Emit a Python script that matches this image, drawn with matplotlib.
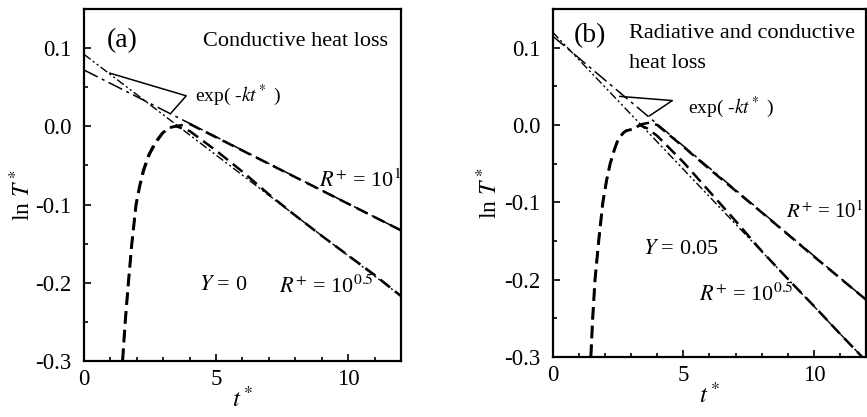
import matplotlib.pyplot as plt
from matplotlib.ticker import MultipleLocator

plt.rcParams['font.family'] = ['Liberation Serif', 'DejaVu Serif']
plt.rcParams['mathtext.fontset'] = 'stix'

# ---- panel (a): conductive heat loss, Y = 0 ----
a_t_r05 = [1.45, 1.55, 1.67, 1.8, 1.96, 2.1, 2.24, 2.45, 2.68, 2.95, 3.2, 3.5, 4.0, 5.0, 6.0, 7.0, 8.0, 9.0, 10.0, 11.0, 12.0]
a_T_r05 = [-0.3, -0.25, -0.2, -0.15, -0.1, -0.076, -0.056, -0.036, -0.021, -0.009, -0.002, 0.0, -0.006, -0.031, -0.058, -0.087, -0.114, -0.14, -0.165, -0.19, -0.217]
a_t_r1 = [1.47, 1.57, 1.69, 1.82, 1.98, 2.12, 2.27, 2.48, 2.72, 3.0, 3.3, 3.6, 4.0, 6.0, 8.0, 10.0, 12.0]
a_T_r1 = [-0.3, -0.25, -0.2, -0.15, -0.1, -0.076, -0.056, -0.036, -0.021, -0.008, -0.001, 0.001, 0.003, -0.031, -0.065, -0.099, -0.133]
a_fit_t = [0, 12]
a_fit_r1 = [0.072, -0.133]
a_fit_r05 = [0.092, -0.217]

# ---- panel (b): radiative and conductive heat loss, Y = 0.05 ----
b_t_r05 = [1.45, 1.52, 1.61, 1.75, 1.91, 2.05, 2.19, 2.35, 2.5, 2.7, 2.82, 3.05, 3.33, 3.6, 4.0, 5.0, 6.0, 7.0, 8.0, 9.0, 10.0, 11.0, 11.85]
b_T_r05 = [-0.3, -0.25, -0.2, -0.15, -0.1, -0.072, -0.05, -0.032, -0.018, -0.01, -0.007, -0.006, 0.0, -0.004, -0.014, -0.048, -0.086, -0.124, -0.163, -0.199, -0.234, -0.27, -0.3]
b_t_r1 = [1.47, 1.54, 1.63, 1.77, 1.93, 2.07, 2.21, 2.37, 2.52, 2.72, 2.85, 3.1, 3.4, 3.7, 4.0, 5.0, 6.0, 8.0, 10.0, 12.0]
b_T_r1 = [-0.3, -0.25, -0.2, -0.15, -0.1, -0.072, -0.05, -0.032, -0.018, -0.01, -0.007, -0.005, 0.001, 0.003, 0.0, -0.028, -0.057, -0.113, -0.17, -0.226]
b_fit_t_r1 = [0, 12]
b_fit_r1 = [0.115, -0.226]
b_fit_t_r05 = [0, 11.85]
b_fit_r05 = [0.12, -0.3]

xticks = [0, 5, 10]
yticks = [-0.3, -0.2, -0.1, 0.0, 0.1]
yticklabels = ['-0.3', '-0.2', '-0.1', '0.0', '0.1']

dash_curve = (0, (5, 2.5))
dash_r1 = (0, (10, 3, 2, 3))
dash_r05 = (0, (6, 2, 1.5, 2, 1.5, 2))

fig = plt.figure(figsize=(8.67, 4.17), dpi=100)
ax1 = fig.add_axes([0.0969, 0.1343, 0.3656, 0.8441])
ax2 = fig.add_axes([0.6375, 0.1439, 0.3615, 0.8345])


def style(ax, ylab_x):
    ax.set_xlim(0, 12)
    ax.set_ylim(-0.3, 0.15)
    ax.set_xticks(xticks)
    ax.set_yticks(yticks)
    ax.set_yticklabels(yticklabels)
    ax.xaxis.set_minor_locator(MultipleLocator(1))
    ax.yaxis.set_minor_locator(MultipleLocator(0.05))
    ax.tick_params(which='both', direction='in', top=False, right=False, labelsize=16.5, width=1.2)
    ax.tick_params(axis='y', which='major', length=5, pad=9)
    ax.tick_params(axis='x', which='major', length=5, pad=6)
    ax.tick_params(which='minor', length=3)
    for s in ax.spines.values():
        s.set_linewidth(1.6)
    ax.set_xlabel(r'$t^*$', fontsize=18)
    ax.xaxis.set_label_coords(0.5, -0.075)
    ax.set_ylabel(r'ln $T^*$', fontsize=17)
    ax.yaxis.set_label_coords(ylab_x, 0.47)


def lbl(ax, x, y, s, **kw):
    ax.text(x, y, s, fontsize=16, va='center', **kw)


# panel (a)
ax1.plot(a_fit_t, a_fit_r1, color='k', lw=1.1, linestyle=dash_r1)
ax1.plot(a_fit_t, a_fit_r05, color='k', lw=1.0, linestyle=dash_r05)
ax1.plot(a_t_r1, a_T_r1, color='k', lw=1.8, linestyle=dash_curve)
ax1.plot(a_t_r05, a_T_r05, color='k', lw=1.8, linestyle=dash_curve)
ax1.plot([0.98, 3.87, 3.31], [0.068, 0.039, 0.0176], color='k', lw=1.1)
ax1.text(4.19, 0.039, r'exp( -$kt^*$ )', fontsize=14, va='center')
ax1.text(0.85, 0.109, '(a)', fontsize=20, va='center')
lbl(ax1, 11.5, 0.109, 'Conductive heat loss', ha='right')
lbl(ax1, 8.9, -0.07, r'$R^{+}$ = 10$^{1}$')
lbl(ax1, 4.35, -0.203, r'$Y$ = 0')
lbl(ax1, 7.4, -0.205, r'$R^{+}$ = 10$^{0.5}$')
style(ax1, -0.155)

# panel (b)
ax2.plot(b_fit_t_r1, b_fit_r1, color='k', lw=1.1, linestyle=dash_r1)
ax2.plot(b_fit_t_r05, b_fit_r05, color='k', lw=1.0, linestyle=dash_r05)
ax2.plot(b_t_r1, b_T_r1, color='k', lw=1.8, linestyle=dash_curve)
ax2.plot(b_t_r05, b_T_r05, color='k', lw=1.8, linestyle=dash_curve)
ax2.plot([2.57, 4.58, 3.71], [0.037, 0.0316, 0.012], color='k', lw=1.1)
ax2.text(5.18, 0.023, r'exp( -$kt^*$ )', fontsize=14, va='center')
ax2.text(0.81, 0.116, '(b)', fontsize=20, va='center')
lbl(ax2, 2.92, 0.118, 'Radiative and conductive')
lbl(ax2, 2.92, 0.079, 'heat loss')
ax2.text(8.95, -0.113, r'$R^{+}$ = 10$^{1}$', fontsize=15, va='center')
lbl(ax2, 3.46, -0.161, r'$Y$ = 0.05')
lbl(ax2, 5.6, -0.219, r'$R^{+}$ = 10$^{0.5}$')
style(ax2, -0.162)

fig.savefig('out.png', dpi=100)
